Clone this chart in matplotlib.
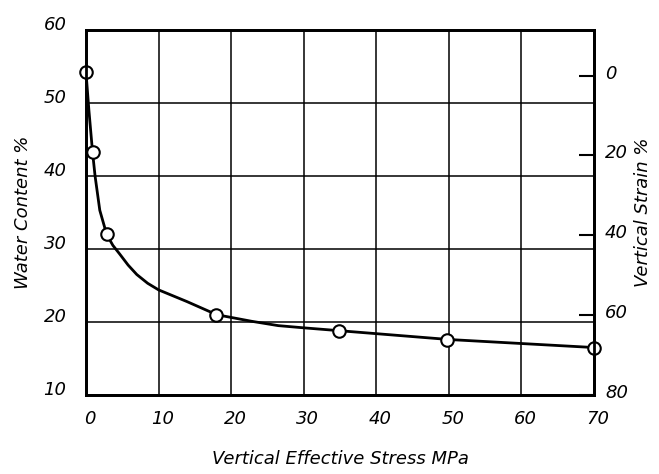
import matplotlib.pyplot as plt
from matplotlib.transforms import ScaledTranslation

# Measured points (stress MPa, water content %)
stress = [0.0, 0.9, 2.85, 17.9, 34.9, 49.8, 70.0]
water = [54.2, 43.3, 32.0, 21.0, 18.8, 17.6, 16.5]

# Hand-drawn fitted curve
curve_stress = [0.0, 0.4, 0.9, 1.25, 1.9, 2.85, 3.7, 4.65, 5.8, 7.0, 8.5, 10.0,
                13.9, 18.0, 22.8, 26.5, 30.0, 35.0, 50.0, 70.0]
curve_water = [54.2, 49.0, 43.3, 40.0, 35.3, 32.0, 30.5, 29.3, 27.8, 26.5, 25.3, 24.4,
               22.8, 21.0, 20.1, 19.5, 19.2, 18.8, 17.6, 16.5]

x_ticks = [0, 10, 20, 30, 40, 50, 60, 70]
y_ticks = [10, 20, 30, 40, 50, 60]
strain_ticks = [0, 20, 40, 60, 80]

plt.rcParams["font.family"] = "DejaVu Sans"
font = dict(fontsize=13, fontstyle="italic")

fig = plt.figure(figsize=(6.59, 4.74), dpi=100)
ax = fig.add_axes([0.1305, 0.1667, 0.7709, 0.77])

ax.plot(curve_stress, curve_water, color="black", lw=2, zorder=3,
        solid_joinstyle="round")
ax.plot(stress, water, "o", ms=9, mfc="white", mec="black", mew=1.5, zorder=4, clip_on=False)

ax.set_xlim(0, 70)
ax.set_ylim(10, 60)
ax.set_xticks(x_ticks)
ax.set_yticks(y_ticks)
ax.set_xticklabels([str(v) for v in x_ticks], **font)
ax.set_yticklabels([str(v) for v in y_ticks], **font)
ax.tick_params(axis="x", length=0, pad=11)
ax.tick_params(axis="y", length=0, pad=14)
ax.grid(True, color="black", lw=1.1)
for s in ax.spines.values():
    s.set_linewidth(2)

# tick labels in the original sit slightly above their grid lines
up = ScaledTranslation(0, 7 / 100, fig.dpi_scale_trans)
for lab in ax.get_yticklabels():
    lab.set_transform(lab.get_transform() + up)
right = ScaledTranslation(4 / 100, 0, fig.dpi_scale_trans)
for lab in ax.get_xticklabels():
    lab.set_transform(lab.get_transform() + right)

ax.set_xlabel("Vertical Effective Stress MPa", labelpad=16, **font)
ax.set_ylabel("Water Content %", labelpad=8, **font)

ax2 = ax.twinx()
ax2.set_ylim(79, -11.4)
ax2.set_yticks(strain_ticks)
ax2.set_yticklabels([str(v) for v in strain_ticks], **font)
ax2.tick_params(axis="y", direction="in", length=11, width=1.5, pad=8)
for s in ax2.spines.values():
    s.set_linewidth(2)
up2 = ScaledTranslation(0, 4 / 100, fig.dpi_scale_trans)
for lab in ax2.get_yticklabels():
    lab.set_transform(lab.get_transform() + up2)
ax2.set_ylabel("Vertical Strain %", labelpad=4, **font)

fig.savefig("out.png", dpi=100)
